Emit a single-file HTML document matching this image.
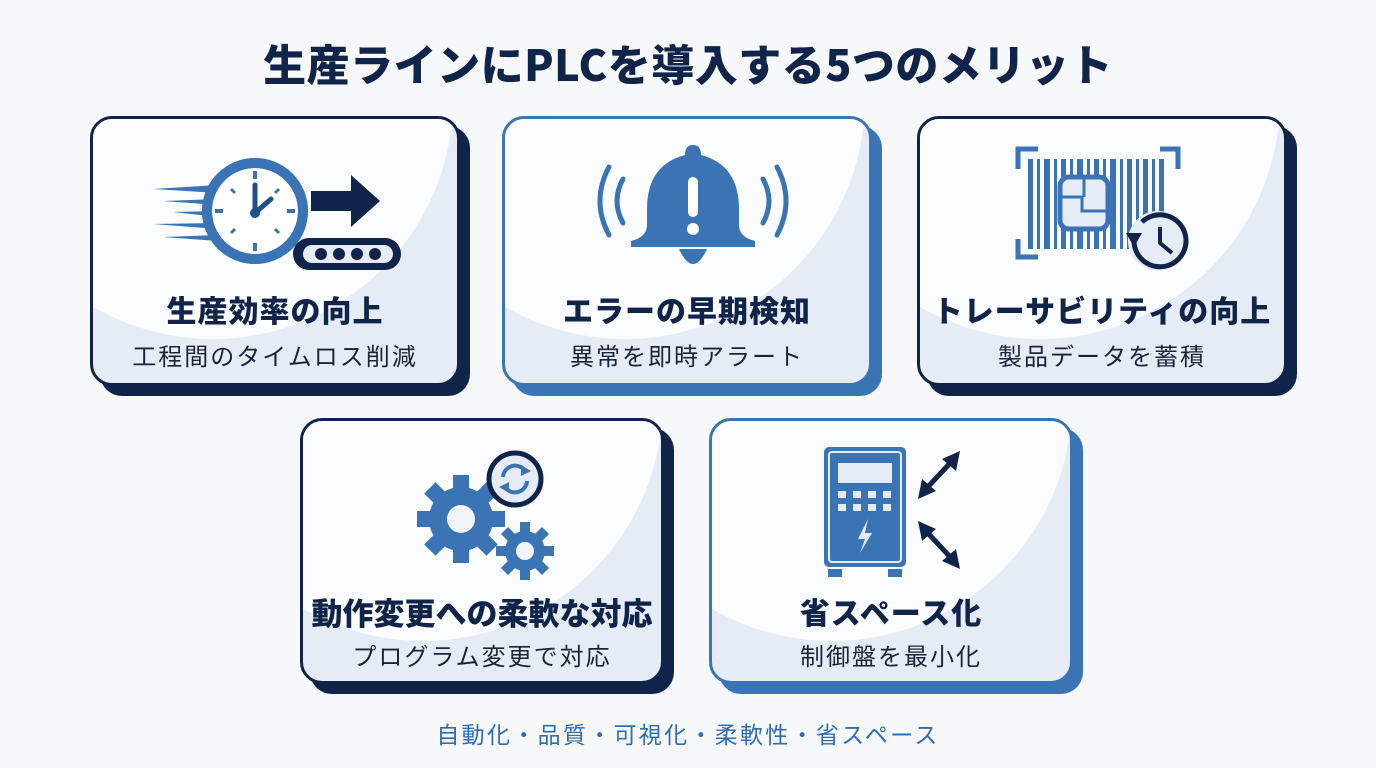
<!DOCTYPE html>
<html><head><meta charset="utf-8"><style>
*{margin:0;padding:0;box-sizing:border-box}
body{width:1376px;height:768px;background:#f7f8fa;position:relative;overflow:hidden;font-family:"Liberation Sans","Noto Sans CJK JP",sans-serif}
.title{position:absolute;left:0;width:1376px;top:32px;text-align:center;font-size:43px;font-weight:900;color:#0f2448;letter-spacing:0.5px;font-family:"Noto Sans CJK JP",sans-serif}
.card{position:absolute;border-radius:22px;border:3px solid #0f2448;background:#e6ecf5;overflow:hidden}
.card.blue{border-color:#3a74b4}
.card .bg{position:absolute;left:-120px;top:-260px;width:480px;height:480px;border-radius:50%;background:#fbfcfe}
.sh{position:absolute;border-radius:22px;background:#0f2448}
.sh.blue{background:#3a74b4}
.card svg{position:absolute;left:0;top:0}
.t1{position:absolute;left:0;right:0;text-align:center;font-weight:900;color:#0f2448;font-family:"Noto Sans CJK JP",sans-serif;font-size:30px;letter-spacing:1px}
.t2{position:absolute;left:0;right:0;text-align:center;color:#1a2438;font-family:"Noto Sans CJK JP",sans-serif;font-size:24px;letter-spacing:2px}
.foot{position:absolute;left:0;width:1376px;top:716px;text-align:center;font-size:23px;color:#2f6db0;font-family:"Noto Sans CJK JP",sans-serif;letter-spacing:2.3px}
</style></head><body>
<div class="title">生産ラインにPLCを導入する5つのメリット</div>

<!-- card1 -->
<div class="sh" style="left:100px;top:126px;width:370px;height:270px"></div>
<div class="card" style="left:90px;top:116px;width:370px;height:270px">
<div class="bg"></div>
<svg width="370" height="270">
<g fill="#3a74b4"><polygon points="60,70 125,66 125,74"/><polygon points="70,82 125,80 125,86"/><polygon points="80,93 125,92 125,98"/><polygon points="60,105 125,104 125,110"/><polygon points="70,118 125,116 125,122"/></g>
<circle cx="162" cy="92" r="48" fill="#fff" stroke="#3a74b4" stroke-width="10"/>
<g stroke="#3a74b4" stroke-width="4"><line x1="162" y1="52" x2="162" y2="60"/><line x1="162" y1="124" x2="162" y2="132"/><line x1="122" y1="92" x2="130" y2="92"/><line x1="194" y1="92" x2="202" y2="92"/></g>
<g stroke="#3a74b4" stroke-width="3"><line x1="138" y1="70" x2="142" y2="74"/><line x1="186" y1="70" x2="182" y2="74"/><line x1="138" y1="114" x2="142" y2="110"/><line x1="186" y1="114" x2="182" y2="110"/></g>
<polyline points="162,66 162,94 178,80" fill="none" stroke="#1f4f8a" stroke-width="5" stroke-linecap="round"/>
<circle cx="162" cy="94" r="5" fill="#1f4f8a"/>
<polygon points="218,72 258,72 258,56 287,82 258,108 258,92 218,92" fill="#0f2448"/>
<rect x="200" y="119" width="108" height="32" rx="16" fill="#0f2448"/>
<rect x="210" y="126" width="90" height="18" rx="9" fill="#e6ecf5"/>
<g fill="#0f2448"><circle cx="228" cy="135" r="6"/><circle cx="246" cy="135" r="6"/><circle cx="264" cy="135" r="6"/><circle cx="282" cy="135" r="6"/></g>
<circle cx="162" cy="92" r="48" fill="none" stroke="#3a74b4" stroke-width="10"/>
</svg>
<div class="t1" style="top:168px">生産効率の向上</div>
<div class="t2" style="top:218px">工程間のタイムロス削減</div>
</div>

<!-- card2 -->
<div class="sh blue" style="left:512px;top:126px;width:370px;height:270px"></div>
<div class="card blue" style="left:502px;top:116px;width:370px;height:270px">
<div class="bg"></div>
<svg width="370" height="270">
<path d="M180 36 Q180 26 188 26 Q196 26 196 36 Q234 46 234 90 L234 106 Q234 118 250 122 L250 128 L126 128 L126 122 Q142 118 142 106 L142 90 Q142 46 180 36Z" fill="#3a74b4"/>
<path d="M174 130 Q188 160 202 130Z" fill="#3a74b4"/>
<rect x="183" y="58" width="10" height="40" rx="5" fill="#fff"/>
<circle cx="188" cy="110" r="6" fill="#fff"/>
<g fill="none" stroke="#3a74b4" stroke-width="5" stroke-linecap="round">
<path d="M118 60 Q106 82 118 104"/><path d="M104 48 Q86 82 104 116"/>
<path d="M258 60 Q270 82 258 104"/><path d="M272 48 Q290 82 272 116"/></g>
</svg>
<div class="t1" style="top:168px">エラーの早期検知</div>
<div class="t2" style="top:218px">異常を即時アラート</div>
</div>

<!-- card3 -->
<div class="sh" style="left:927px;top:126px;width:370px;height:270px"></div>
<div class="card" style="left:917px;top:116px;width:370px;height:270px">
<div class="bg"></div>
<svg width="370" height="270">
<g fill="none" stroke="#3a74b4" stroke-width="5"><path d="M118 30 L98 30 L98 50"/><path d="M240 30 L258 30 L258 50"/><path d="M98 120 L98 138 L118 138"/></g>
<g fill="#3a74b4">
<rect x="108" y="40" width="5" height="90"/><rect x="117" y="40" width="3" height="90"/><rect x="124" y="40" width="6" height="90"/><rect x="134" y="40" width="3" height="90"/><rect x="141" y="40" width="5" height="90"/><rect x="150" y="40" width="3" height="90"/><rect x="157" y="40" width="6" height="90"/><rect x="167" y="40" width="3" height="90"/><rect x="174" y="40" width="5" height="90"/><rect x="183" y="40" width="3" height="90"/><rect x="190" y="40" width="6" height="90"/><rect x="200" y="40" width="3" height="90"/><rect x="207" y="40" width="5" height="90"/><rect x="216" y="40" width="3" height="90"/><rect x="223" y="40" width="5" height="90"/><rect x="232" y="40" width="3" height="90"/><rect x="239" y="40" width="5" height="90"/>
</g>
<rect x="140" y="58" width="48" height="52" rx="9" fill="#e6ecf5" stroke="#3a74b4" stroke-width="5"/>
<path d="M140 78 L162 78 L162 92 L188 92 M164 58 L164 78" stroke="#3a74b4" stroke-width="3" fill="none"/>
<circle cx="238" cy="122" r="30" fill="#e6ecf5"/>
<path d="M214 122 A26 26 0 1 0 222 103" fill="none" stroke="#0f2448" stroke-width="5"/>
<polygon points="206,114 222,114 214,128" fill="#0f2448"/>
<polyline points="240,108 240,124 252,134" fill="none" stroke="#0f2448" stroke-width="4"/>
</svg>
<div class="t1" style="top:168px">トレーサビリティの向上</div>
<div class="t2" style="top:218px">製品データを蓄積</div>
</div>

<!-- card4 -->
<div class="sh" style="left:310px;top:428px;width:364px;height:266px"></div>
<div class="card" style="left:300px;top:418px;width:364px;height:266px">
<div class="bg"></div>
<svg width="364" height="266">
<g fill="#3a74b4">
<circle cx="158" cy="98" r="32"/>
<g transform="translate(158,98)"><rect x="-8" y="-44" width="16" height="88"/><rect x="-8" y="-44" width="16" height="88" transform="rotate(45)"/><rect x="-8" y="-44" width="16" height="88" transform="rotate(90)"/><rect x="-8" y="-44" width="16" height="88" transform="rotate(135)"/></g>
<circle cx="222" cy="130" r="20"/>
<g transform="translate(222,130)"><rect x="-5" y="-29" width="10" height="58"/><rect x="-5" y="-29" width="10" height="58" transform="rotate(45)"/><rect x="-5" y="-29" width="10" height="58" transform="rotate(90)"/><rect x="-5" y="-29" width="10" height="58" transform="rotate(135)"/></g>
</g>
<circle cx="158" cy="98" r="14" fill="#f2f5fa"/><circle cx="222" cy="130" r="9" fill="#f2f5fa"/>
<circle cx="212" cy="58" r="26" fill="#e6ecf5" stroke="#0f2448" stroke-width="5"/>
<path d="M200 56 A12 12 0 0 1 222 50 M224 60 A12 12 0 0 1 202 66" fill="none" stroke="#3a74b4" stroke-width="4"/>
<polygon points="218,44 228,50 218,55" fill="#3a74b4"/><polygon points="206,72 196,66 206,61" fill="#3a74b4"/>
</svg>
<div class="t1" style="top:168px;font-size:31px;letter-spacing:0">動作変更への柔軟な対応</div>
<div class="t2" style="top:216px">プログラム変更で対応</div>
</div>

<!-- card5 -->
<div class="sh blue" style="left:719px;top:428px;width:364px;height:266px"></div>
<div class="card blue" style="left:709px;top:418px;width:364px;height:266px">
<div class="bg"></div>
<svg width="364" height="266">
<rect x="112" y="26" width="82" height="120" rx="5" fill="#3a74b4"/>
<rect x="117" y="31" width="72" height="110" rx="3" fill="none" stroke="#e6ecf5" stroke-width="2"/>
<rect x="126" y="42" width="54" height="20" fill="#e6ecf5"/>
<g fill="#e6ecf5"><rect x="126" y="70" width="8" height="7"/><rect x="141" y="70" width="8" height="7"/><rect x="156" y="70" width="8" height="7"/><rect x="171" y="70" width="8" height="7"/><rect x="126" y="83" width="8" height="7"/><rect x="141" y="83" width="8" height="7"/><rect x="156" y="83" width="8" height="7"/><rect x="171" y="83" width="8" height="7"/></g>
<polygon points="156,98 146,118 153,118 148,132 160,112 153,112" fill="#e6ecf5"/>
<rect x="116" y="148" width="14" height="8" fill="#3a74b4"/><rect x="176" y="148" width="14" height="8" fill="#3a74b4"/>
<g stroke="#0f2448" stroke-width="5"><line x1="212" y1="70" x2="242" y2="38"/><line x1="212" y1="108" x2="242" y2="140"/></g>
<g fill="#0f2448"><polygon points="248,30 244,50 230,38"/><polygon points="206,78 210,58 224,70"/><polygon points="206,100 224,108 210,120"/><polygon points="248,148 230,140 244,128"/></g>
</svg>
<div class="t1" style="top:168px">省スペース化</div>
<div class="t2" style="top:216px">制御盤を最小化</div>
</div>

<div class="foot">自動化・品質・可視化・柔軟性・省スペース</div>
</body></html>
